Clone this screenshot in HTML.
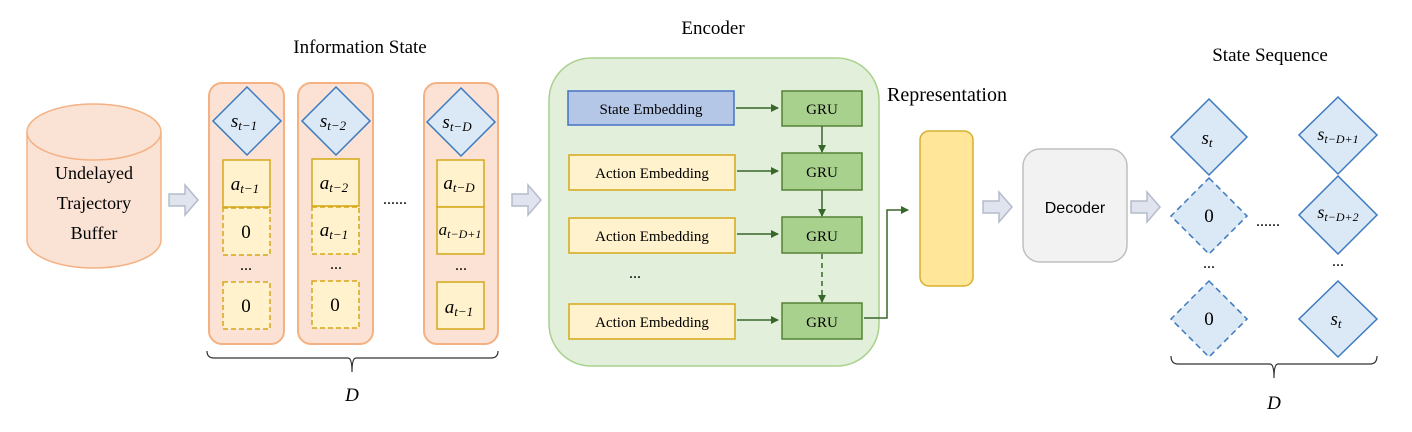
<!DOCTYPE html>
<html><head><meta charset="utf-8"><style>body{margin:0;background:#fff}svg{display:block}</style></head>
<body>
<svg width="1412" height="432" viewBox="0 0 1412 432" xmlns="http://www.w3.org/2000/svg" font-family="Liberation Serif, serif">
<defs>
<marker id="ah" markerWidth="8" markerHeight="8" refX="7" refY="4" orient="auto" markerUnits="userSpaceOnUse"><path d="M0,0 L8,4 L0,8 z" fill="#38672a"/></marker>
<g id="blk"><path d="M0,-6 L16,-6 L16,-15 L29,0 L16,15 L16,6 L0,6 z" fill="#dfe4ee" stroke="#b4bccb" stroke-width="1.5"/></g>
</defs>
<!-- cylinder -->
<path d="M27,132 L27,240 A67,28 0 0 0 161,240 L161,132" fill="#fae3d5" stroke="#f4b183" stroke-width="1.5"/>
<ellipse cx="94" cy="132" rx="67" ry="28" fill="#fae3d5" stroke="#f4b183" stroke-width="1.5"/>
<text x="94" y="179" font-size="18" text-anchor="middle">Undelayed</text>
<text x="94" y="209" font-size="18" text-anchor="middle">Trajectory</text>
<text x="94" y="239" font-size="18" text-anchor="middle">Buffer</text>
<use href="#blk" x="169" y="200"/>
<text x="360" y="53" font-size="19" text-anchor="middle">Information State</text>
<!-- columns -->
<g stroke="#f4b183" stroke-width="2" fill="#fbe2d5">
<rect x="209" y="83" width="75" height="261" rx="13"/>
<rect x="298" y="83" width="75" height="261" rx="13"/>
<rect x="424" y="83" width="74" height="261" rx="13"/>
</g>
<g fill="#dbe8f5" stroke="#3c7abf" stroke-width="1.5">
<path d="M247,87 L281,121 L247,155 L213,121 z"/>
<path d="M336,87 L370,121 L336,155 L302,121 z"/>
<path d="M461,88 L495,122 L461,156 L427,122 z"/>
</g>
<g font-family="Liberation Serif, serif" font-style="italic" font-size="19" text-anchor="middle">
<text x="244" y="127">s<tspan font-size="13" dy="3">t−1</tspan></text>
<text x="333" y="127">s<tspan font-size="13" dy="3">t−2</tspan></text>
<text x="457" y="128">s<tspan font-size="13" dy="3">t−D</tspan></text>
</g>
<g fill="#fff2cc" stroke="#d6a819" stroke-width="1.5">
<rect x="223" y="160" width="47" height="47"/>
<rect x="223" y="208" width="47" height="47" stroke-dasharray="5,3"/>
<rect x="223" y="282" width="47" height="47" stroke-dasharray="5,3"/>
<rect x="312" y="159" width="47" height="47"/>
<rect x="312" y="207" width="47" height="47" stroke-dasharray="5,3"/>
<rect x="312" y="281" width="47" height="47" stroke-dasharray="5,3"/>
<rect x="437" y="160" width="47" height="47"/>
<rect x="437" y="207" width="47" height="47"/>
<rect x="437" y="282" width="47" height="47"/>
</g>
<g font-size="19" text-anchor="middle" font-style="italic">
<text x="245" y="190">a<tspan font-size="13" dy="3">t−1</tspan></text>
<text x="334" y="189">a<tspan font-size="13" dy="3">t−2</tspan></text>
<text x="334" y="236">a<tspan font-size="13" dy="3">t−1</tspan></text>
<text x="459" y="189">a<tspan font-size="13" dy="3">t−D</tspan></text>
<text x="460" y="235" font-size="17">a<tspan font-size="12" dy="3">t−D+1</tspan></text>
<text x="459" y="313">a<tspan font-size="13" dy="3">t−1</tspan></text>
</g>
<g font-size="19" text-anchor="middle">
<text x="246" y="238">0</text><text x="246" y="312">0</text><text x="335" y="311">0</text>
<text x="246" y="270" font-size="16">...</text><text x="336" y="269" font-size="16">...</text><text x="461" y="270" font-size="16">...</text>
<text x="395" y="204" font-size="16">......</text>
</g>
<path d="M207,351 Q207,358 214,358 L348,358 Q352,358 352,372 Q352,358 356,358 L491,358 Q498,358 498,351" fill="none" stroke="#333" stroke-width="1.2"/>
<text x="352" y="401" font-size="19" font-style="italic" text-anchor="middle">D</text>
<use href="#blk" x="512" y="200"/>
<!-- encoder -->
<text x="713" y="34" font-size="19" text-anchor="middle">Encoder</text>
<rect x="549" y="58" width="330" height="308" rx="42" fill="#e2efda" stroke="#a9d18e" stroke-width="1.5"/>
<rect x="568" y="91" width="166" height="34" fill="#b4c7e7" stroke="#4472c4" stroke-width="1.5"/>
<g fill="#fff2cc" stroke="#d6a819" stroke-width="1.5">
<rect x="569" y="155" width="166" height="35"/><rect x="569" y="218" width="166" height="35"/><rect x="569" y="304" width="166" height="35"/>
</g>
<g fill="#a9d18e" stroke="#548235" stroke-width="1.5">
<rect x="782" y="91" width="80" height="35"/><rect x="782" y="153" width="80" height="37"/><rect x="782" y="217" width="80" height="36"/><rect x="782" y="303" width="80" height="36"/>
</g>
<g font-size="15" text-anchor="middle">
<text x="651" y="114">State Embedding</text>
<text x="652" y="178">Action Embedding</text><text x="652" y="241">Action Embedding</text><text x="652" y="327">Action Embedding</text>
<text x="822" y="114">GRU</text><text x="822" y="177">GRU</text><text x="822" y="241">GRU</text><text x="822" y="327">GRU</text>
<text x="635" y="278" font-size="16">...</text>
</g>
<g stroke="#38672a" stroke-width="1.5" fill="none" marker-end="url(#ah)">
<line x1="736" y1="108" x2="778" y2="108"/><line x1="737" y1="171" x2="778" y2="171"/><line x1="737" y1="234" x2="778" y2="234"/><line x1="737" y1="320" x2="778" y2="320"/>
<line x1="822" y1="126" x2="822" y2="152"/><line x1="822" y1="190" x2="822" y2="216"/>
<line x1="822" y1="254" x2="822" y2="302" stroke-dasharray="5,4"/>
<polyline points="864,318 887,318 887,210 908,210"/>
</g>
<text x="887" y="101" font-size="20">Representation</text>
<rect x="920" y="131" width="53" height="155" rx="9" fill="#ffe699" stroke="#d6b02e" stroke-width="1.5"/>
<use href="#blk" x="983" y="207"/>
<rect x="1023" y="149" width="104" height="113" rx="17" fill="#f2f2f2" stroke="#bfbfbf" stroke-width="1.5"/>
<text x="1075" y="213" font-size="16" font-family="Liberation Sans, sans-serif" text-anchor="middle">Decoder</text>
<use href="#blk" x="1131" y="207"/>
<text x="1270" y="61" font-size="19" text-anchor="middle">State Sequence</text>
<g fill="#dbe8f5" stroke="#3c7abf" stroke-width="1.5">
<path d="M1209,99 L1247,137 L1209,175 L1171,137 z"/>
<path d="M1209,178 L1247,216 L1209,254 L1171,216 z" stroke-dasharray="6,4"/>
<path d="M1209,281 L1247,319 L1209,357 L1171,319 z" stroke-dasharray="6,4"/>
<path d="M1338,97 L1377,135 L1338,174 L1299,135 z"/>
<path d="M1338,176 L1377,215 L1338,254 L1299,215 z"/>
<path d="M1338,281 L1377,319 L1338,357 L1299,319 z"/>
</g>
<g font-size="19" text-anchor="middle" font-style="italic">
<text x="1207" y="144">s<tspan font-size="13" dy="3">t</tspan></text>
<text x="1338" y="140" font-size="18">s<tspan font-size="12" dy="3">t−D+1</tspan></text>
<text x="1338" y="218" font-size="18">s<tspan font-size="12" dy="3">t−D+2</tspan></text>
<text x="1336" y="325">s<tspan font-size="13" dy="3">t</tspan></text>
</g>
<g font-size="19" text-anchor="middle">
<text x="1209" y="222">0</text><text x="1209" y="325">0</text>
<text x="1268" y="226" font-size="16">......</text>
<text x="1209" y="268" font-size="16">...</text><text x="1338" y="266" font-size="16">...</text>
</g>
<path d="M1171,356 Q1171,364 1178,364 L1270,364 Q1274,364 1274,378 Q1274,364 1278,364 L1370,364 Q1377,364 1377,356" fill="none" stroke="#333" stroke-width="1.2"/>
<text x="1274" y="409" font-size="19" font-style="italic" text-anchor="middle">D</text>
</svg>
</body></html>
